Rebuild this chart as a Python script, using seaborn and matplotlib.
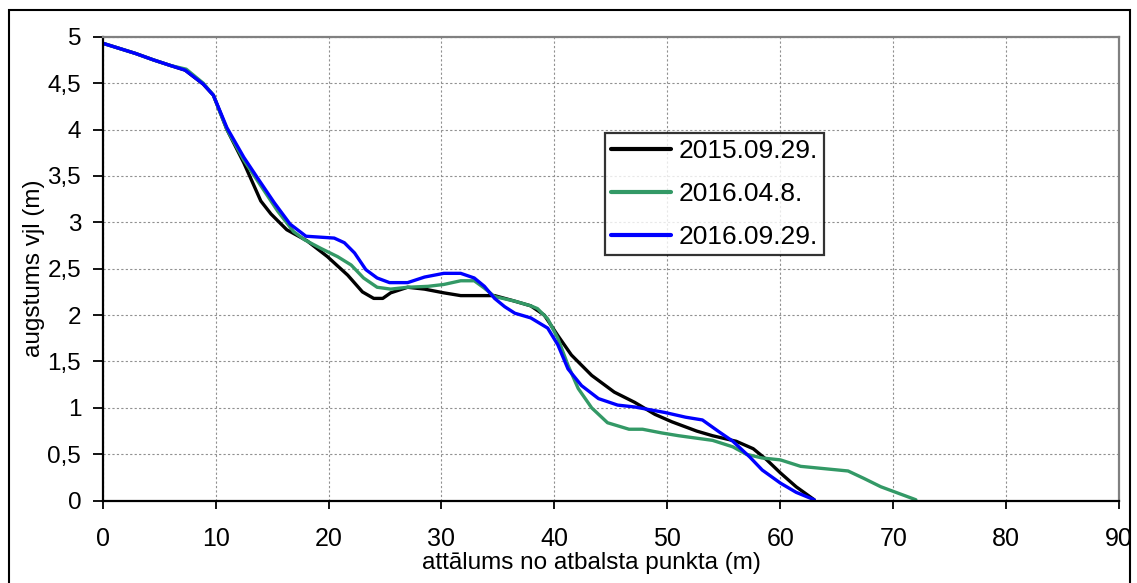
import numpy as np
import pandas as pd
import matplotlib
matplotlib.use("Agg")
import matplotlib.pyplot as plt
import seaborn as sns
from matplotlib.ticker import FuncFormatter, MultipleLocator

# dati nolasīti no attēla
x_2015 = [0, 2.9, 4.5, 6.0, 7.3, 8.9, 9.8, 11.0, 12.5, 14.0, 14.9, 16.3, 18.1, 19.9, 21.7,
          23.0, 24.0, 24.8, 25.5, 27.0, 28.5, 30.2, 31.7, 34.7, 36.2, 37.9, 39.1, 40.3,
          41.5, 43.3, 45.3, 47.1, 48.9, 50.4, 52.6, 54.0, 56.1, 57.6, 58.8, 60.0, 61.4, 63.0]
y_2015 = [4.93, 4.82, 4.75, 4.69, 4.64, 4.49, 4.37, 4.0, 3.64, 3.23, 3.09, 2.92, 2.80, 2.63,
          2.43, 2.25, 2.18, 2.18, 2.24, 2.30, 2.28, 2.24, 2.21, 2.21, 2.16, 2.10, 2.00, 1.78,
          1.57, 1.35, 1.17, 1.06, 0.93, 0.85, 0.75, 0.70, 0.64, 0.56, 0.44, 0.30, 0.15, 0.01]

x_2016a = [0, 2.9, 4.5, 6.0, 7.4, 8.9, 9.8, 11.0, 12.5, 13.7, 15.5, 16.9, 17.9, 19.3, 20.8,
           22.0, 23.1, 24.3, 25.5, 27.0, 28.8, 30.2, 31.7, 32.9, 33.8, 34.7, 36.5, 37.9,
           38.5, 39.4, 40.3, 41.2, 42.1, 43.3, 44.7, 46.6, 47.8, 49.5, 51.0, 54.0, 55.8,
           57.0, 58.4, 60.0, 61.8, 66.0, 67.4, 68.9, 72.0]
y_2016a = [4.93, 4.82, 4.75, 4.69, 4.65, 4.50, 4.37, 4.0, 3.67, 3.45, 3.12, 2.90, 2.81, 2.72,
           2.63, 2.54, 2.40, 2.30, 2.28, 2.30, 2.31, 2.33, 2.37, 2.37, 2.29, 2.20, 2.15, 2.10,
           2.07, 1.96, 1.75, 1.46, 1.21, 1.0, 0.84, 0.77, 0.77, 0.73, 0.70, 0.65, 0.58,
           0.50, 0.46, 0.44, 0.37, 0.32, 0.24, 0.15, 0.01]

x_2016b = [0, 2.9, 4.5, 6.0, 7.3, 8.9, 9.8, 11.0, 12.5, 13.7, 15.2, 16.6, 18.0, 20.5, 21.4,
           22.3, 23.3, 24.3, 25.4, 27.0, 28.5, 30.2, 31.7, 32.9, 33.8, 34.7, 35.6, 36.5,
           37.9, 39.4, 40.3, 41.2, 42.4, 43.9, 45.6, 47.1, 49.8, 51.6, 53.1, 54.6, 55.8,
           57.3, 58.4, 60.0, 61.4, 63.0]
y_2016b = [4.93, 4.82, 4.75, 4.69, 4.64, 4.49, 4.37, 4.02, 3.70, 3.48, 3.21, 2.98, 2.85, 2.83,
           2.78, 2.67, 2.49, 2.40, 2.35, 2.35, 2.41, 2.45, 2.45, 2.40, 2.31, 2.18, 2.09, 2.02,
           1.97, 1.86, 1.68, 1.42, 1.24, 1.10, 1.03, 1.01, 0.95, 0.90, 0.87, 0.74, 0.64,
           0.47, 0.33, 0.19, 0.09, 0.01]

labels = ['2015.09.29.', '2016.04.8.', '2016.09.29.']
colors = ['#000000', '#339966', '#0000FF']

frames = []
for lab, xs, ys in zip(labels, [x_2015, x_2016a, x_2016b], [y_2015, y_2016a, y_2016b]):
    frames.append(pd.DataFrame({'x': xs, 'y': ys, 'datums': lab}))
df = pd.concat(frames, ignore_index=True)

sns.set_style('white')
plt.rcParams['font.family'] = ['Liberation Sans', 'DejaVu Sans']
plt.rcParams['text.color'] = 'black'
plt.rcParams['axes.labelcolor'] = 'black'
plt.rcParams['xtick.color'] = 'black'
plt.rcParams['ytick.color'] = 'black'

fig = plt.figure(figsize=(11.37, 5.83), dpi=100)
ax = fig.add_axes([0.0903, 0.1412, 0.894, 0.7958])

# ārējais rāmis
fig.patches.append(plt.Rectangle((0.008, -0.01), 0.986, 0.993, transform=fig.transFigure,
                                 fill=False, edgecolor='black', linewidth=1.5))

sns.lineplot(data=df, x='x', y='y', hue='datums', palette=colors, sort=False,
             estimator=None, linewidth=2.4, ax=ax)

ax.set_xlim(0, 90)
ax.set_ylim(0, 5)
ax.xaxis.set_major_locator(MultipleLocator(10))
ax.yaxis.set_major_locator(MultipleLocator(0.5))
ax.yaxis.set_major_formatter(FuncFormatter(lambda v, p: ('%g' % v).replace('.', ',')))
ax.grid(True, color='#909090', linestyle=(0, (2, 2)), linewidth=0.8)
ax.set_axisbelow(True)

for s in ['left', 'bottom']:
    ax.spines[s].set_color('black')
    ax.spines[s].set_linewidth(1.6)
for s in ['top', 'right']:
    ax.spines[s].set_color('#808080')
    ax.spines[s].set_linewidth(1.6)

ax.tick_params(axis='both', direction='out', width=1.3, color='black',
               labelcolor='black', left=True, bottom=True)
ax.tick_params(axis='x', length=6, pad=13, labelsize=18)
ax.tick_params(axis='y', length=7.5, pad=8, labelsize=17.5)

ax.set_xlabel('attālums no atbalsta punkta (m)', fontsize=17.5, color='black')
ax.set_ylabel('augstums vjl (m)', fontsize=17.5, color='black')
ax.xaxis.label.set_va('center')
ax.yaxis.label.set_va('center')
ax.xaxis.set_label_coords(0.481, -0.134)
ax.yaxis.set_label_coords(-0.068, 0.5)

leg = ax.legend(loc='upper left', bbox_to_anchor=(0.4944, 0.7925), fontsize=19,
                frameon=True, fancybox=False, handlelength=2.27, handletextpad=0.3,
                labelspacing=0.72, borderpad=0.22, borderaxespad=0)
leg.get_frame().set_edgecolor('black')
leg.get_frame().set_linewidth(1.6)
for text in leg.get_texts():
    text.set_color('black')
for line in leg.get_lines():
    line.set_linewidth(3)

fig.savefig('out.png', dpi=100)
